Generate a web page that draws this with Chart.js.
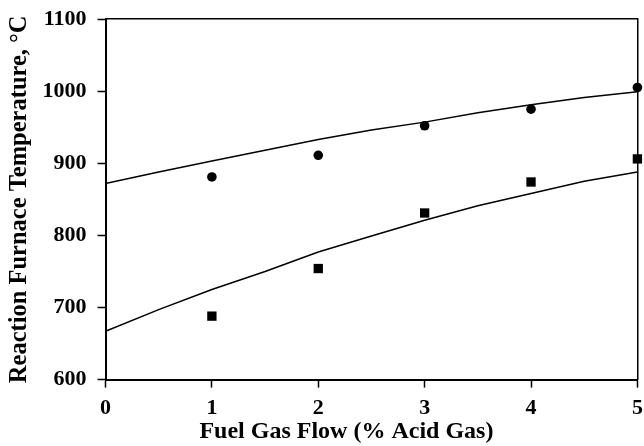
<!DOCTYPE html>
<html>
<head>
<meta charset="utf-8">
<script src="https://cdn.jsdelivr.net/npm/chart.js@4/dist/chart.umd.min.js"></script>
<style>
  html, body { margin: 0; padding: 0; background: #fff; }
  #wrap { width: 644px; height: 446px; }
</style>
</head>
<body>
<div id="wrap"><canvas id="furnaceChart" width="644" height="446"></canvas></div>
<script>
// Model curves
const lineFlow = [0, 0.5, 1, 1.5, 2, 2.5, 3, 3.5, 4, 4.5, 5];
const upperModel = [872, 888, 903, 918, 933, 946, 957, 970, 981, 991, 999];
const lowerModel = [667, 697, 725, 750, 777, 799, 821, 841, 858, 875, 888];

// Measured points
const pointFlow = [1, 2, 3, 4, 5];
const circleTemps = [881, 911, 952, 975, 1005];
const squareTemps = [688, 754, 831, 874, 906];

const xTicks = [0, 1, 2, 3, 4, 5];
const yTicks = [600, 700, 800, 900, 1000, 1100];

const xTitle = "Fuel Gas Flow (% Acid Gas)";
const yTitle = "Reaction Furnace Temperature, °C";

const toXY = (xs, ys) => xs.map((x, i) => ({ x: x, y: ys[i] }));

const serif = "'Liberation Serif', 'Times New Roman', serif";
const tickFont = { family: serif, size: 22, weight: "bold" };

// x title sits a bit left of the plot centre in the original, so draw it here
const xTitlePlugin = {
  id: "xTitle",
  afterDraw(chart) {
    const { ctx, chartArea } = chart;
    ctx.save();
    ctx.font = "bold 24px " + serif;
    ctx.fillStyle = "#000";
    ctx.textAlign = "center";
    ctx.textBaseline = "alphabetic";
    ctx.fillText(xTitle, (chartArea.left + chartArea.right) / 2 - 25, 438);
    ctx.restore();
  },
};

new Chart(document.getElementById("furnaceChart").getContext("2d"), {
  type: "scatter",
  data: {
    datasets: [
      {
        data: toXY(lineFlow, upperModel),
        showLine: true,
        borderColor: "#000",
        borderWidth: 1.5,
        pointRadius: 0,
        fill: false,
      },
      {
        data: toXY(lineFlow, lowerModel),
        showLine: true,
        borderColor: "#000",
        borderWidth: 1.5,
        pointRadius: 0,
        fill: false,
      },
      {
        data: toXY(pointFlow, circleTemps),
        pointStyle: "circle",
        pointRadius: 4.8,
        backgroundColor: "#000",
        borderColor: "#000",
        borderWidth: 0,
      },
      {
        data: toXY(pointFlow, squareTemps),
        pointStyle: "rect",
        pointRadius: 6.6,
        backgroundColor: "#000",
        borderColor: "#000",
        borderWidth: 0,
      },
    ],
  },
  plugins: [xTitlePlugin],
  options: {
    responsive: false,
    animation: false,
    clip: false,
    layout: { padding: { top: 19, right: 5, left: 7, bottom: 16 } },
    plugins: {
      legend: { display: false },
      tooltip: { enabled: false },
    },
    scales: {
      x: {
        type: "linear",
        min: 0,
        max: 5,
        afterBuildTicks: (axis) => { axis.ticks = xTicks.map((v) => ({ value: v })); },
        afterFit: (axis) => { axis.paddingLeft = 0; axis.paddingRight = 0; },
        grid: { drawOnChartArea: false, tickLength: 8, color: "#000", tickWidth: 1.5 },
        border: { color: "#000", width: 2 },
        ticks: { color: "#000", font: tickFont, padding: 8, callback: (v) => String(v) },
      },
      y: {
        type: "linear",
        min: 600,
        max: 1100,
        afterBuildTicks: (axis) => { axis.ticks = yTicks.map((v) => ({ value: v })); },
        afterFit: (axis) => { axis.paddingTop = 0; axis.paddingBottom = 0; },
        grid: { drawOnChartArea: false, tickLength: 8, color: "#000", tickWidth: 1.5 },
        border: { color: "#000", width: 2 },
        ticks: { color: "#000", font: tickFont, padding: 11, callback: (v) => String(v) },
        title: {
          display: true,
          text: yTitle,
          color: "#000",
          font: { family: serif, size: 24.5, weight: "bold", lineHeight: 1 },
          padding: { top: 0, bottom: 0 },
        },
      },
      x2: {
        type: "linear",
        position: "top",
        min: 0,
        max: 5,
        grid: { display: false },
        ticks: { display: false },
        border: { color: "#000", width: 1.5 },
        afterFit: (axis) => { axis.height = 0; },
      },
      y2: {
        type: "linear",
        position: "right",
        min: 600,
        max: 1100,
        grid: { display: false },
        ticks: { display: false },
        border: { color: "#000", width: 1.5 },
        afterFit: (axis) => { axis.width = 0; },
      },
    },
  },
});
</script>
</body>
</html>
